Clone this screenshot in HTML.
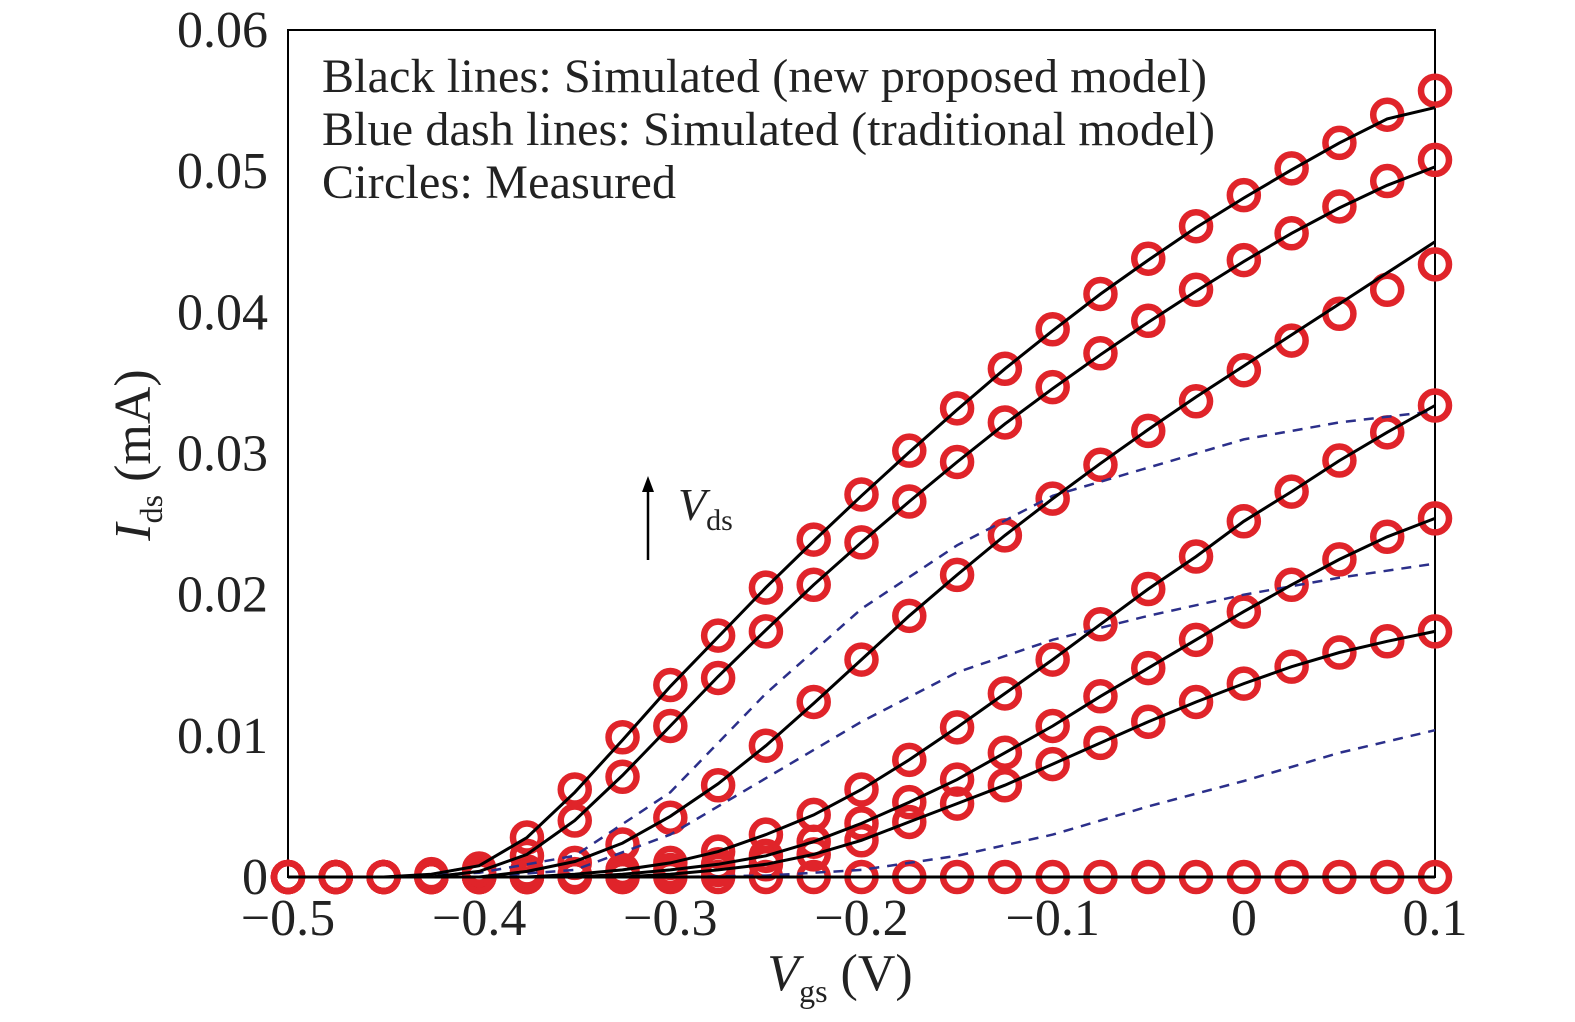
<!DOCTYPE html>
<html><head><meta charset="utf-8"><style>
body{margin:0;background:#fff;}
svg{display:block;font-family:"Liberation Serif",serif;}
</style></head><body>
<svg id="chart" width="1575" height="1022">
<rect x="288" y="30" width="1147" height="847" fill="none" stroke="#000" stroke-width="2"/>
<g id="series"></g>
<g id="ticks"></g>
<g font-size="48" fill="#222">
<text x="322" y="92" textLength="885">Black lines: Simulated (new proposed model)</text>
<text x="322" y="145" textLength="893">Blue dash lines: Simulated (traditional model)</text>
<text x="322" y="198" textLength="354">Circles: Measured</text>
</g>
<g>
<line x1="648" y1="560" x2="648" y2="488" stroke="#000" stroke-width="2.5"/>
<polygon points="642,492 654,492 648,476" fill="#000"/>
<text x="678" y="520" font-size="46" font-style="italic" fill="#222">V<tspan font-size="30" font-style="normal" dy="10">ds</tspan></text>
</g>
<text x="840" y="990" font-size="52" text-anchor="middle" fill="#222"><tspan font-style="italic">V</tspan><tspan font-size="32" dy="12">gs</tspan><tspan dy="-12"> (V)</tspan></text>
<text transform="translate(150,455) rotate(-90)" font-size="52" text-anchor="middle" fill="#222"><tspan font-style="italic">I</tspan><tspan font-size="32" dy="12">ds</tspan><tspan dy="-12"> (mA)</tspan></text>
</svg>
<script>
const vgs=[-0.5,-0.475,-0.45,-0.425,-0.4,-0.375,-0.35,-0.325,-0.3,-0.275,-0.25,-0.225,-0.2,-0.175,-0.15,-0.125,-0.1,-0.075,-0.05,-0.025,0,0.025,0.05,0.075,0.1];
const meas1=[0,0,0,0.0002,0.0006,0.0028,0.0062,0.0099,0.0136,0.0171,0.0205,0.0239,0.0271,0.0302,0.0332,0.036,0.0388,0.0413,0.0438,0.0461,0.0483,0.0502,0.052,0.054,0.0557];
const meas2=[0,0,0,0,0.0003,0.0015,0.004,0.0071,0.0107,0.0141,0.0174,0.0207,0.0237,0.0266,0.0294,0.0322,0.0347,0.0371,0.0394,0.0416,0.0437,0.0456,0.0475,0.0493,0.0508];
const meas3=[0,0,0,0,0,0.0004,0.001,0.0023,0.0042,0.0065,0.0093,0.0124,0.0154,0.0185,0.0214,0.0242,0.0268,0.0292,0.0316,0.0337,0.0359,0.038,0.0399,0.0416,0.0434];
const meas4=[0,0,0,0,0,0,0.0002,0.0005,0.001,0.0018,0.003,0.0044,0.0062,0.0083,0.0106,0.013,0.0154,0.0179,0.0204,0.0227,0.0252,0.0273,0.0295,0.0315,0.0334];
const meas5=[0,0,0,0,0,0,0,0.0002,0.0005,0.0009,0.0015,0.0025,0.0038,0.0053,0.0069,0.0088,0.0107,0.0128,0.0148,0.0168,0.0188,0.0207,0.0225,0.0241,0.0254];
const meas6=[0,0,0,0,0,0,0,0,0.0002,0.0005,0.0009,0.0016,0.0026,0.0039,0.0052,0.0065,0.008,0.0095,0.011,0.0124,0.0137,0.0149,0.0159,0.0167,0.0174];
const meas7=[0,0,0,0,0,0,0,0,0,0,0,0,0,0,0,0,0,0,0,0,0,0,0,0,0];
const sim1=[0,0,0,0.0002,0.0008,0.0028,0.006,0.0097,0.0135,0.017,0.0205,0.0238,0.027,0.0301,0.0331,0.036,0.0387,0.0413,0.0437,0.046,0.0481,0.0501,0.052,0.0537,0.0545];
const sim2=[0,0,0,0,0.0004,0.0016,0.004,0.0072,0.0107,0.0142,0.0175,0.0207,0.0237,0.0266,0.0294,0.0321,0.0346,0.037,0.0393,0.0415,0.0436,0.0456,0.0474,0.049,0.0503];
const sim3=[0,0,0,0,0,0.0004,0.0011,0.0024,0.0043,0.0066,0.0093,0.0123,0.0154,0.0185,0.0214,0.0242,0.0268,0.0293,0.0317,0.034,0.0362,0.0384,0.0406,0.0428,0.045];
const sim4=meas4, sim5=meas5, sim6=meas6;
const dvgs=[-0.45,-0.4,-0.35,-0.3,-0.25,-0.2,-0.15,-0.1,-0.05,0,0.05,0.1];
const dash4=[0,0.0003,0.0015,0.006,0.013,0.019,0.0235,0.027,0.029,0.031,0.0322,0.033];
const dash5=[0,0,0.0005,0.003,0.007,0.011,0.0145,0.0168,0.0185,0.0200,0.0212,0.0222];
const dash6=[0,0,0,0,0.0001,0.0005,0.0015,0.003,0.005,0.0068,0.0088,0.0104];
const xTicks=[-0.5,-0.4,-0.3,-0.2,-0.1,0,0.1];
const xTickLabels=["\u22120.5","\u22120.4","\u22120.3","\u22120.2","\u22120.1","0","0.1"];
const yTicks=[0,0.01,0.02,0.03,0.04,0.05,0.06];
const yTickLabels=["0","0.01","0.02","0.03","0.04","0.05","0.06"];
const X=v=>288+(v+0.5)/0.6*1147;
const Y=v=>877-v/0.06*847;
const NS="http://www.w3.org/2000/svg";
const S=document.getElementById('series'), T=document.getElementById('ticks');
function pathD(xs,ys){let d="";for(let i=0;i<xs.length;i++){d+=(i?"L":"M")+X(xs[i]).toFixed(1)+","+Y(ys[i]).toFixed(1);}return d;}
[meas1,meas2,meas3,meas4,meas5,meas6,meas7].forEach((m,k)=>{m.forEach((v,i)=>{
const c=document.createElementNS(NS,'circle');c.setAttribute('cx',X(vgs[i]));c.setAttribute('cy',Y(v));c.setAttribute('r',14);
c.setAttribute('fill','none');c.setAttribute('stroke','#e0242a');c.setAttribute('stroke-width',6.5);


S.appendChild(c);});});
[sim1,sim2,sim3].forEach(s=>{const p=document.createElementNS(NS,'path');p.setAttribute('d',pathD(vgs,s));
p.setAttribute('fill','none');p.setAttribute('stroke','#2b2f8a');p.setAttribute('stroke-width',2.5);p.setAttribute('stroke-dasharray','10,8');


S.appendChild(p);});
[dash4,dash5,dash6].forEach(s=>{const p=document.createElementNS(NS,'path');p.setAttribute('d',pathD(dvgs,s));
p.setAttribute('fill','none');p.setAttribute('stroke','#2b2f8a');p.setAttribute('stroke-width',2.5);p.setAttribute('stroke-dasharray','10,8');


S.appendChild(p);});
[sim1,sim2,sim3,sim4,sim5,sim6,meas7].forEach(s=>{const p=document.createElementNS(NS,'path');p.setAttribute('d',pathD(vgs,s));
p.setAttribute('fill','none');p.setAttribute('stroke','#000');p.setAttribute('stroke-width',3);


S.appendChild(p);});
xTicks.forEach((v,i)=>{const t=document.createElementNS(NS,'text');t.setAttribute('x',X(v));t.setAttribute('y',935);
t.setAttribute('text-anchor','middle');t.setAttribute('font-size',52);t.setAttribute('fill','#222');t.textContent=xTickLabels[i];


T.appendChild(t);});
yTicks.forEach((v,i)=>{const t=document.createElementNS(NS,'text');t.setAttribute('x',268);t.setAttribute('y',Y(v)+17);
t.setAttribute('text-anchor','end');t.setAttribute('font-size',52);t.setAttribute('fill','#222');t.textContent=yTickLabels[i];


T.appendChild(t);});
</script>
</body></html>
